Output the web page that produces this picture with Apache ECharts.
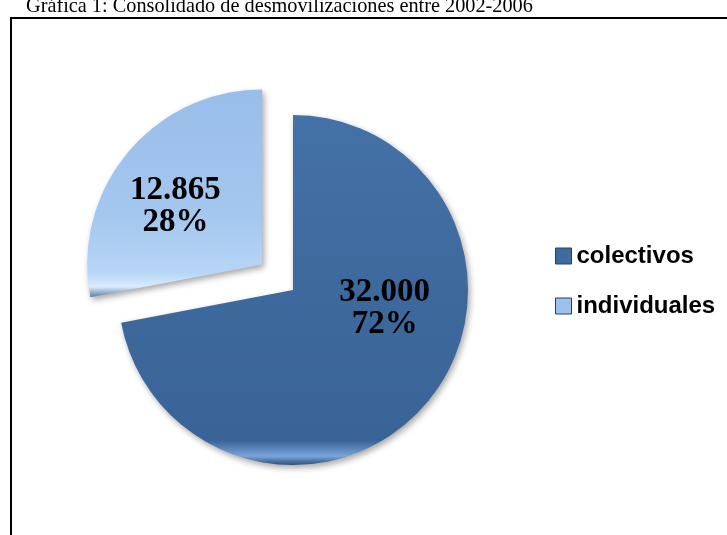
<!DOCTYPE html>
<html>
<head>
<meta charset="utf-8">
<script src="https://cdn.jsdelivr.net/npm/echarts@6/dist/echarts.min.js"></script>
<style>
html,body{margin:0;padding:0;background:#fff;}
#chart{width:727px;height:535px;}
</style>
</head>
<body>
<div id="chart"></div>
<script>
// Data
const titleText = 'Gráfica 1: Consolidado de desmovilizaciones entre 2002-2006';
const categories = ['colectivos', 'individuales'];
const counts = ['32.000', '12.865'];
const shares = [72, 28];
const shareLabels = ['72%', '28%'];

const fills = [
  {type:'linear', x:0, y:0, x2:0, y2:1, colorStops:[
    {offset:0, color:'#4471a7'}, {offset:0.5, color:'#3e699d'},
    {offset:0.93, color:'#3a6498'}, {offset:0.975, color:'#78a4da'}, {offset:1, color:'#2e4d76'}]},
  {type:'linear', x:0, y:0, x2:0, y2:1, colorStops:[
    {offset:0, color:'#98bde8'}, {offset:0.6, color:'#a4c7ef'},
    {offset:0.88, color:'#b7d5f5'}, {offset:0.95, color:'#d8ebfc'}, {offset:1, color:'#5b7ba3'}]}
];
const legendColors = ['#3f6b9f', '#9cc1ea'];

const chart = echarts.init(document.getElementById('chart'), null, {renderer:'canvas'});
const labelShift = [[22, -39], [-17, 0]];

chart.setOption({
  backgroundColor:'#ffffff',
  animation:false,
  title:{
    text:titleText, left:21, top:-8,
    textStyle:{fontFamily:'Liberation Serif', fontSize:20.3, fontWeight:'normal', color:'#000'}
  },
  graphic:[{
    type:'polyline', silent:true,
    shape:{points:[[11,535],[11,18],[727,18]]},
    style:{stroke:'#000', lineWidth:2, fill:null}
  }],
  legend:{
    orient:'vertical', left:555, top:244, padding:0,
    itemWidth:16, itemHeight:16, itemGap:26,
    icon:'rect',
    data:categories.map((c,i)=>({name:c, itemStyle:{color:legendColors[i], borderColor:'#24406a', borderWidth:1}})),
    textStyle:{fontFamily:'Liberation Sans', fontWeight:'bold', fontSize:24, lineHeight:24, color:'#000'}
  },
  series:[{
    type:'pie',
    center:[293, 290],
    radius:175,
    startAngle:90,
    clockwise:true,
    selectedMode:'multiple',
    selectedOffset:40,
    avoidLabelOverlap:false,
    label:{
      show:true, position:'inside',
      fontFamily:'Liberation Serif', fontWeight:'bold', fontSize:33, lineHeight:32, color:'#000',
      formatter:p=>counts[p.dataIndex]+'\n'+shareLabels[p.dataIndex]
    },
    labelLine:{show:false},
    labelLayout:p=>({dx:labelShift[p.dataIndex][0], dy:labelShift[p.dataIndex][1]}),
    emphasis:{disabled:true},
    itemStyle:{shadowBlur:6, shadowColor:'rgba(0,0,0,0.35)', shadowOffsetX:2, shadowOffsetY:3},
    data:categories.map((c,i)=>({
      name:c, value:shares[i], selected:i===1,
      itemStyle:{color:fills[i]}
    }))
  }]
});
</script>
</body>
</html>
